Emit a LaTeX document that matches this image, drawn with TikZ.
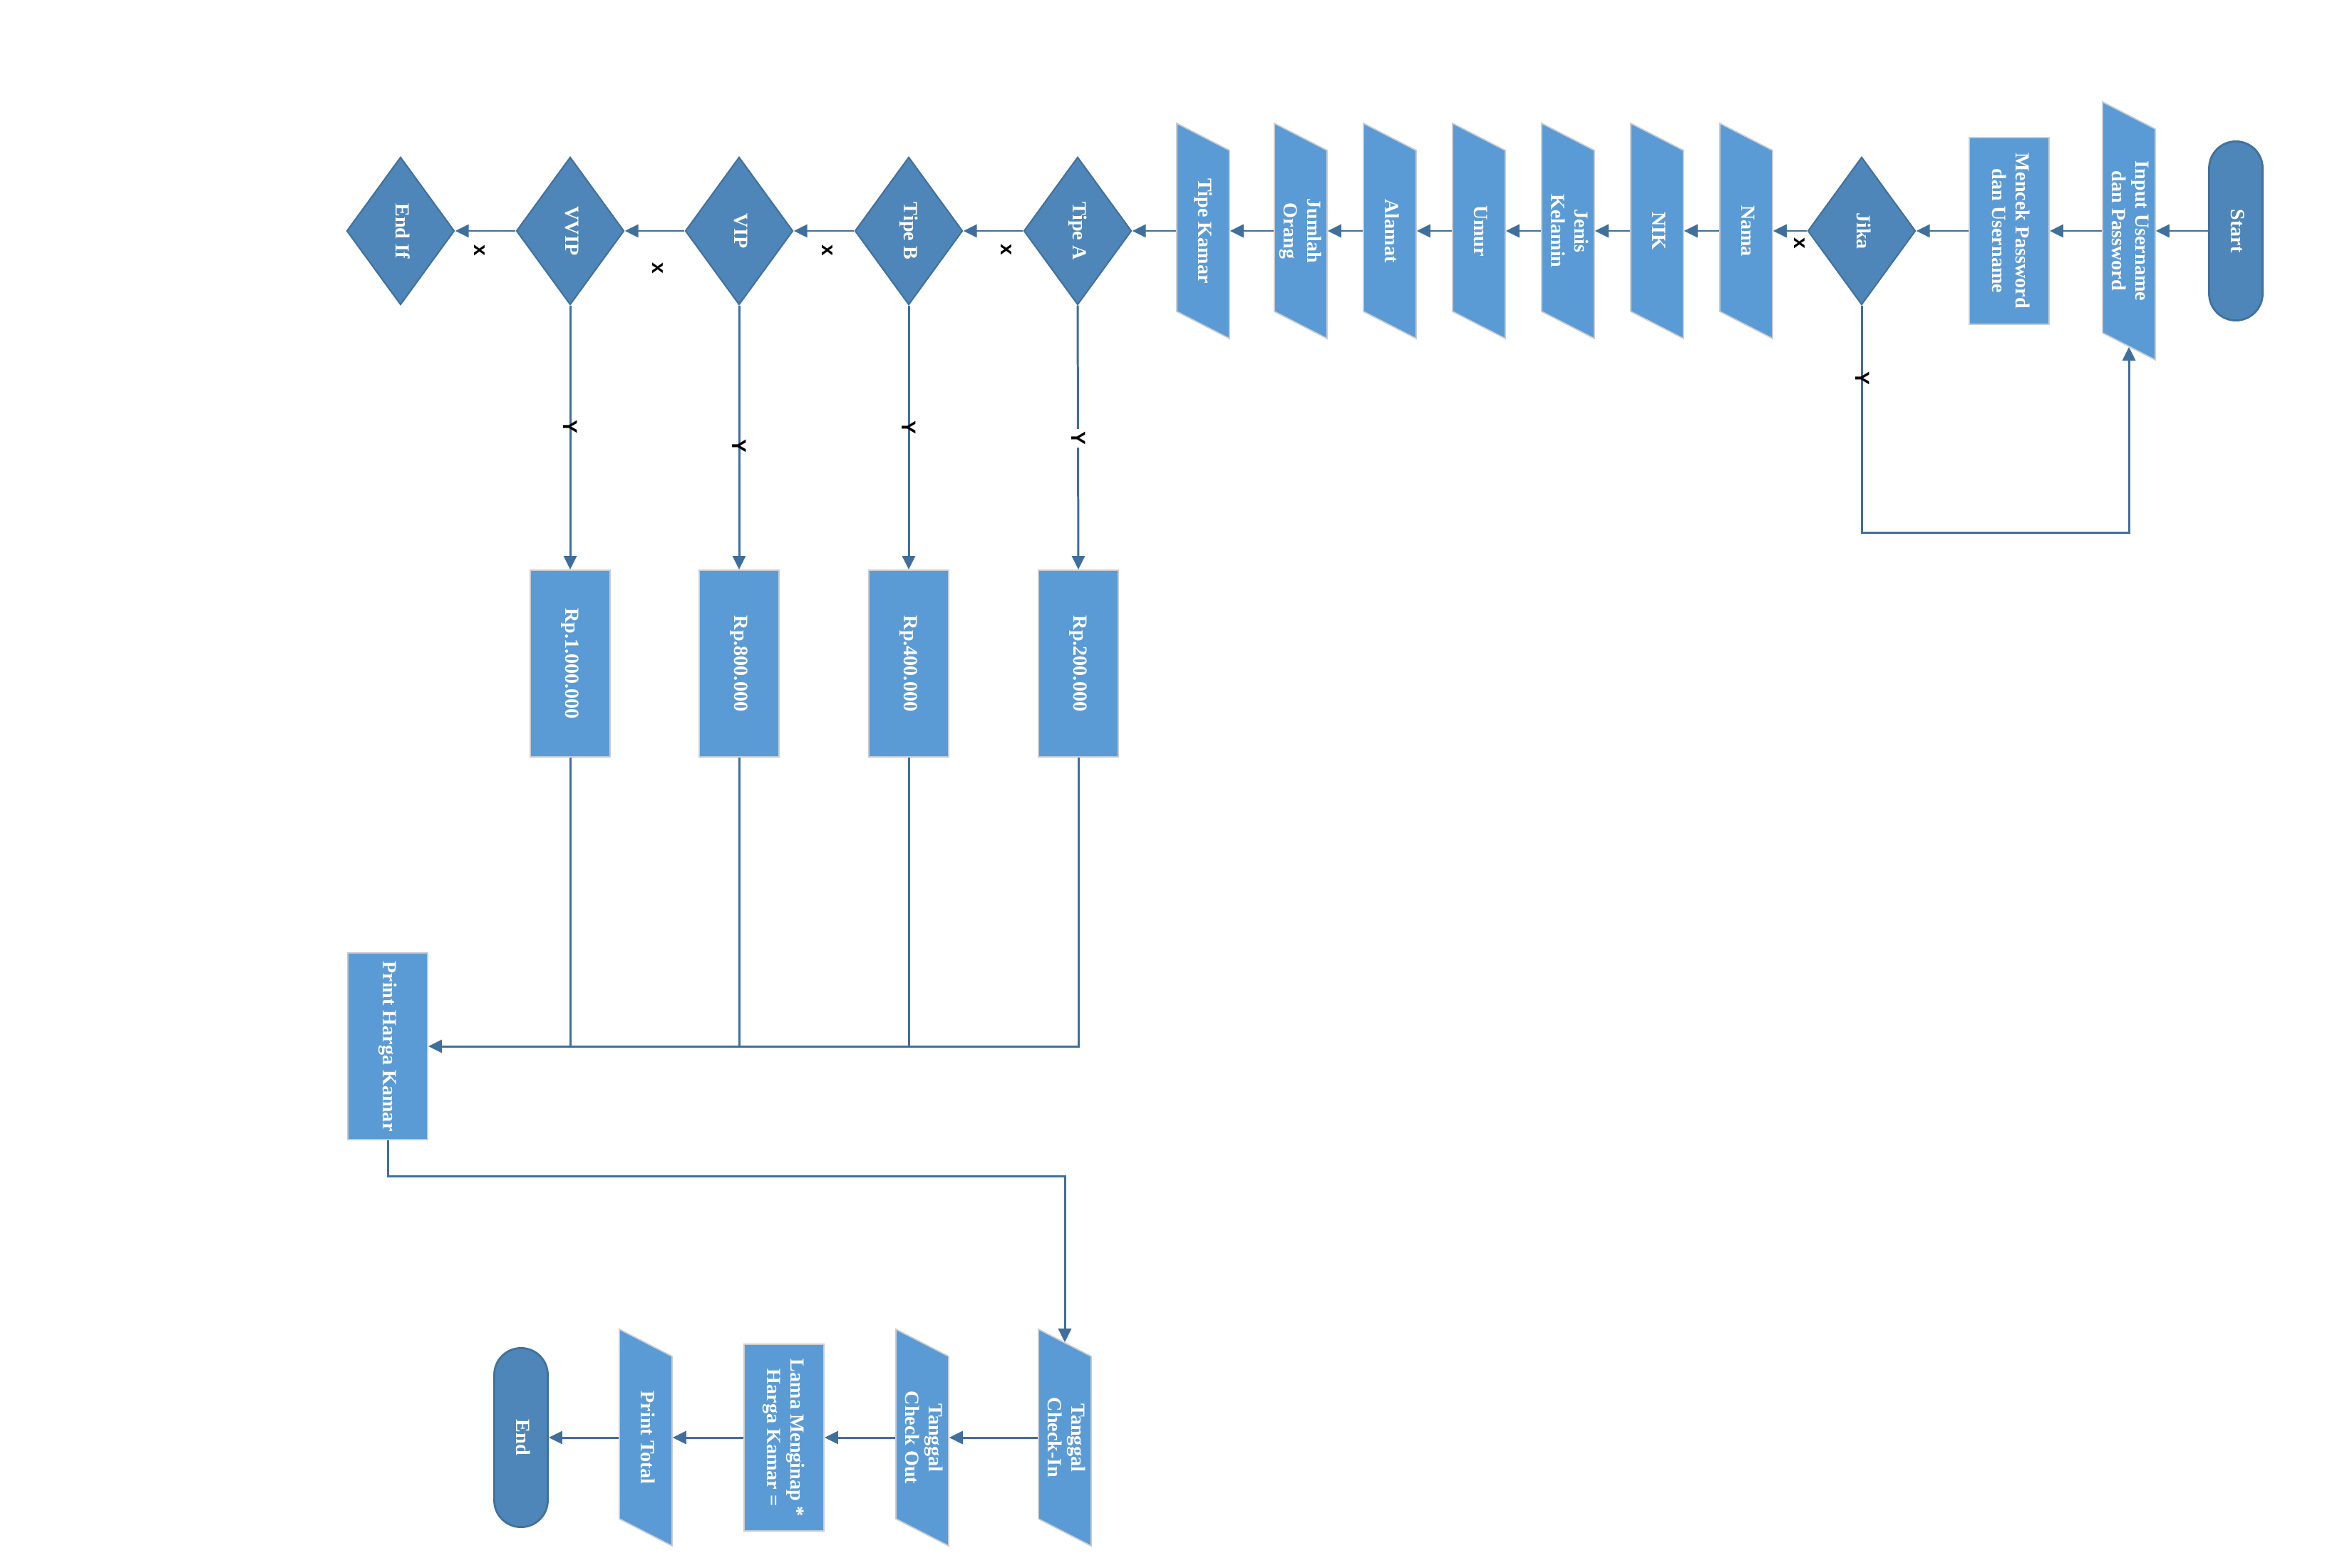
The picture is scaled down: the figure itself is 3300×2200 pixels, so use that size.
\documentclass[tikz,border=0pt]{standalone}
\usepackage{fontspec}
\setmainfont{Liberation Serif}
\newfontfamily\lblfont{Liberation Sans}
\usepackage{graphicx}
\usetikzlibrary{shapes.geometric,arrows.meta,calc}
\definecolor{lightbox}{HTML}{5B9BD5}
\definecolor{darkbox}{HTML}{4E86BA}
\definecolor{darkedge}{HTML}{41719C}
\definecolor{lineblue}{HTML}{3F6F9D}
\definecolor{boxedge}{HTML}{C9CDD3}
\newcommand\rt[1]{\rotatebox{-90}{\begin{tabular}{@{}c@{}}#1\end{tabular}}}
\tikzset{
 txt/.style={text=white,font=\fontsize{8}{9.4}\selectfont\bfseries},
 procbox/.style={txt,rectangle,fill=lightbox,draw=boxedge,line width=0.5pt,minimum width=1.12cm,minimum height=2.62cm,inner sep=0pt},
 decis/.style={txt,diamond,fill=darkbox,draw=darkedge,line width=0.6pt,minimum width=1.51cm,minimum height=2.07cm,inner sep=0pt},
 term/.style={txt,rectangle,rounded corners=0.375cm,fill=darkbox,draw=darkedge,line width=0.8pt,minimum width=0.75cm,minimum height=2.51cm,inner sep=0pt},
 iotext/.style={txt,rectangle,minimum width=0.74cm,inner sep=0pt},
 conn/.style={draw=lineblue,line width=0.85pt},
 arr/.style={conn,-{Triangle[length=0.19cm,width=0.18cm]}},
 lbl/.style={font=\lblfont\bfseries\fontsize{8}{9}\selectfont,text=black,rotate=-90,inner sep=0pt},
}
\newcommand\iobox[5]{%
  \filldraw[fill=lightbox,draw=boxedge,line width=0.5pt]
   (#2-37,#3-#4-19) -- (#2+37,#3-#4+19) -- (#2+37,#3+#4+19) -- (#2-37,#3+#4-19) -- cycle;
  \node[iotext,minimum height=#4*0.02cm] (#1) at (#2,#3) {\rt{#5}};
}
\begin{document}
\begin{tikzpicture}[x=0.01cm,y=-0.01cm]
\useasboundingbox[fill=white] (0,0) rectangle (3300,2200);

% top row
\node[term] (start) at (3137,324) {\rt{Start}};
\iobox{in}{2987}{324}{162}{Input Username\\dan Password}
\node[procbox] (mencek) at (2819,324) {\rt{Mencek Password\\dan Username}};
\node[decis] (jika) at (2612,324) {\rt{Jika}};
\iobox{nama}{2450}{324}{132}{Nama}
\iobox{nik}{2325}{324}{132}{NIK}
\iobox{jk}{2200}{324}{132}{Jenis\\Kelamin}
\iobox{umur}{2075}{324}{132}{Umur}
\iobox{alamat}{1950}{324}{132}{Alamat}
\iobox{jumlah}{1825}{324}{132}{Jumlah\\Orang}
\iobox{tkamar}{1688}{324}{132}{Tipe Kamar}
\node[decis] (ta) at (1512,324) {\rt{Tipe A}};
\node[decis] (tb) at (1275,324) {\rt{Tipe B}};
\node[decis] (vip) at (1037,324) {\rt{VIP}};
\node[decis] (vvip) at (800,324) {\rt{VVIP}};
\node[decis] (endif) at (562,324) {\rt{End If}};

% price boxes
\node[procbox] (rp200) at (1513,931) {\rt{Rp.200.000}};
\node[procbox] (rp400) at (1275,931) {\rt{Rp.400.000}};
\node[procbox] (rp800) at (1037,931) {\rt{Rp.800.000}};
\node[procbox] (rp1000) at (800,931) {\rt{Rp.1.000.000}};

\node[procbox] (print) at (544,1468) {\rt{Print Harga Kamar}};

% bottom row
\iobox{ci}{1494}{2017}{133}{Tanggal\\Check-In}
\iobox{co}{1294}{2017}{133}{Tanggal\\Check Out}
\node[procbox] (lama) at (1100,2017) {\rt{Lama Menginap *\\Harga Kamar =}};
\iobox{pt}{906}{2017}{133}{Print Total}
\node[term] (end) at (731,2017) {\rt{End}};

% connectors top row
\draw[arr] (start.west) -- (in.east);
\draw[arr] (in.west) -- (mencek.east);
\draw[arr] (mencek.west) -- (jika.east);
\draw[arr] (jika.west) -- (nama.east);
\coordinate (loopa) at (2612,747);
\draw[arr] (jika.south) -- (loopa) -| (in.south);
\draw[arr] (nama.west) -- (nik.east);
\draw[arr] (nik.west) -- (jk.east);
\draw[arr] (jk.west) -- (umur.east);
\draw[arr] (umur.west) -- (alamat.east);
\draw[arr] (alamat.west) -- (jumlah.east);
\draw[arr] (jumlah.west) -- (tkamar.east);
\draw[arr] (tkamar.west) -- (ta.east);
\draw[arr] (ta.west) -- (tb.east);
\draw[arr] (tb.west) -- (vip.east);
\draw[arr] (vip.west) -- (vvip.east);
\draw[arr] (vvip.west) -- (endif.east);

\draw[arr] (ta.south) -- (rp200.north);
\draw[arr] (tb.south) -- (rp400.north);
\draw[arr] (vip.south) -- (rp800.north);
\draw[arr] (vvip.south) -- (rp1000.north);

\draw[arr] (rp200.south) |- (print.east);
\draw[conn] (rp400.south) -- (rp400.south |- print.east);
\draw[conn] (rp800.south) -- (rp800.south |- print.east);
\draw[conn] (rp1000.south) -- (rp1000.south |- print.east);

\coordinate (pa) at (544,1650);
\draw[arr] (print.south) -- (pa) -| (ci.north);

\draw[arr] (ci.west) -- (co.east);
\draw[arr] (co.west) -- (lama.east);
\draw[arr] (lama.west) -- (pt.east);
\draw[arr] (pt.west) -- (end.east);

% labels
\node[lbl] (lx1) at (2525,341) {x};
\node[lbl] (ly1) at (2613,531) {Y};
\node[lbl] (lx2) at (1412,350) {x};
\node[lbl] (lx3) at (1161,351) {x};
\node[lbl] (lx4) at (923,376) {x};
\node[lbl] (lx5) at (673,351) {x};
\node[lbl,fill=white,inner sep=1pt] (ly2) at (1513,615) {Y};
\node[lbl] (ly3) at (1275,600) {Y};
\node[lbl] (ly4) at (1037,626) {Y};
\node[lbl] (ly5) at (800,599) {Y};
\end{tikzpicture}
\end{document}
